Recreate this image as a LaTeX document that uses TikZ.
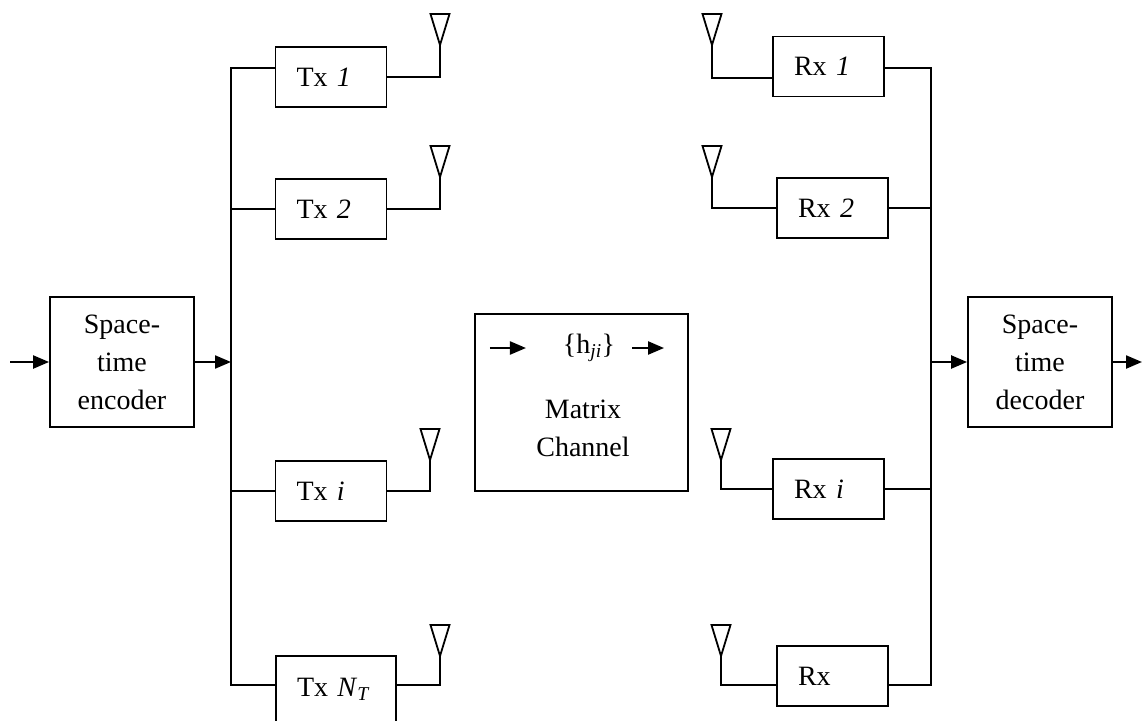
\documentclass[tikz,border=0pt]{standalone}
\usepackage{fontspec}
\setmainfont{Liberation Serif}
\usetikzlibrary{arrows.meta}
\begin{document}
\begin{tikzpicture}[x=1pt,y=-1pt,line width=1.8pt,font=\fontsize{28}{38}\selectfont]
\tikzstyle{coder}=[rectangle,draw=black,minimum width=144pt,minimum height=130pt,align=center,inner sep=0pt]
\tikzstyle{unit}=[rectangle,draw=black,minimum height=60pt,inner xsep=21pt,inner ysep=0pt,text width=69pt,align=left]
\tikzstyle{sig}=[-{Triangle[length=16pt,width=13pt]},line width=2.2pt]

\useasboundingbox (0,0) rectangle (1142,720);

% coders and channel
\node [coder] at (122,362) (enc) {Space-\\time\\encoder};
\node [coder] at (1040,362) (dec) {Space-\\time\\decoder};
\node [rectangle,draw=black,minimum width=213pt,minimum height=177pt] at (581.5,402.5) (mat) {};
\node [inner sep=0pt] at (589,348) (hji) {\{h\textsubscript{\textit{ji}}\}};
\node [align=center] at (583,428) (mtxt) {Matrix\\Channel};

% transmitters
\node [unit] at (331,77) (tx1) {Tx \textit{1}};
\node [unit] at (331,209) (tx2) {Tx \textit{2}};
\node [unit] at (331,491) (txi) {Tx \textit{i}};
\node [unit,text width=78pt,minimum height=66pt] at (336,689) (txN) {Tx \textit{N}\textsubscript{\textit{T}}};

% receivers
\node [unit] at (828.5,66.5) (rx1) {Rx \textit{1}};
\node [unit] at (832.5,208) (rx2) {Rx \textit{2}};
\node [unit] at (828.5,489) (rxi) {Rx \textit{i}};
\node [unit] at (832.5,676) (rxN) {Rx};

% bus ends, antenna tips, signal ends
\coordinate (lt) at (231,68);
\coordinate (lb) at (231,685);
\coordinate (rt) at (931,68);
\coordinate (rb) at (931,685);
\coordinate (ta1) at (440,45);
\coordinate (ta2) at (440,177);
\coordinate (tai) at (430,460);
\coordinate (taN) at (440,656);
\coordinate (ra1) at (712,45);
\coordinate (ra2) at (712,177);
\coordinate (rai) at (721,460);
\coordinate (raN) at (721,656);
\coordinate (in) at (10,362);
\coordinate (out) at (1142,362);

\foreach \a in {ta1,ta2,tai,taN,ra1,ra2,rai,raN}
  \draw [line join=miter] (\a) -- ++(-9.5,-31) -- ++(19,0) -- cycle;

% transmit side
\draw (tx1.west |- lt) -- (lt) -- (lb) -- (txN.west |- lb);
\draw (tx2.west) -- (tx2.west -| lt);
\draw (txi.west) -- (txi.west -| lt);
\draw (tx1.east) -| (ta1);
\draw (tx2.east) -| (ta2);
\draw (txi.east) -| (tai);
\draw (txN.east |- lb) -| (taN);

% receive side
\draw (rx1.east |- rt) -- (rt) -- (rb) -- (rxN.east |- rb);
\draw (rx2.east) -- (rx2.east -| rt);
\draw (rxi.east) -- (rxi.east -| rt);
\draw (ra1) |- ([yshift=-11.5pt]rx1.west);
\draw (ra2) |- (rx2.west);
\draw (rai) |- (rxi.west);
\draw (raN) |- (rxN.west |- rb);

% signal arrows
\draw [sig] (in) -- (enc.west);
\draw [sig] (enc.east) -- (enc.east -| lt);
\draw [sig] (dec.west -| rt) -- (dec.west);
\draw [sig] (dec.east) -- (out);
\draw [sig] ([xshift=-72pt]hji.west) -- ([xshift=-36pt]hji.west);
\draw [sig] ([xshift=16pt]hji.east) -- ([xshift=48pt]hji.east);
\end{tikzpicture}
\end{document}
